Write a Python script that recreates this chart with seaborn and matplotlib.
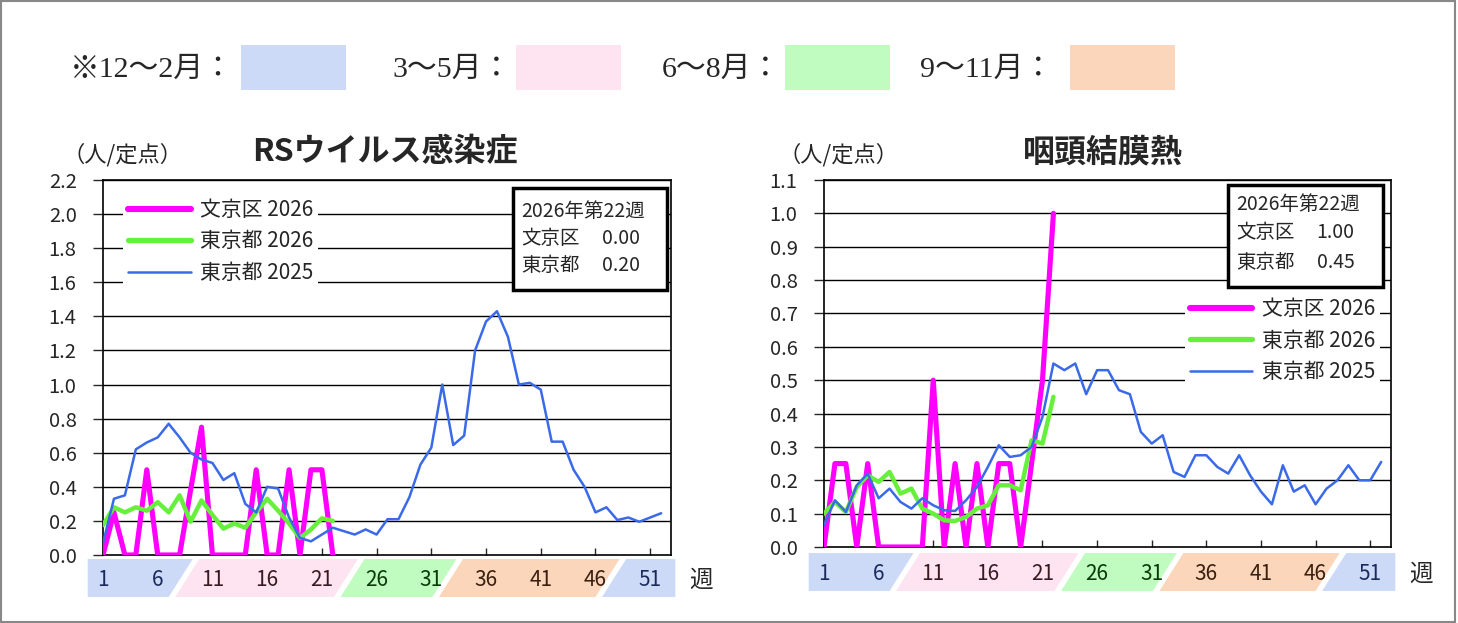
import matplotlib
matplotlib.use('Agg')
import matplotlib.pyplot as plt
from matplotlib.patches import Polygon, Rectangle
from matplotlib.lines import Line2D
import seaborn as sns
import numpy as np

sns.set_style('white')
plt.rcParams['font.family'] = ['Noto Sans CJK JP', 'DejaVu Sans']

# ---- data ----
weeks_2025 = list(range(1, 53))
weeks_2026 = list(range(1, 23))

# RSウイルス感染症
rs_bunkyo_2026 = [0, 0.25, 0, 0, 0.5, 0, 0, 0, 0.38, 0.75, 0, 0, 0, 0, 0.5, 0, 0, 0.5, 0, 0.5, 0.5, 0]
rs_tokyo_2026 = [0.175, 0.28, 0.25, 0.28, 0.26, 0.31, 0.25, 0.35, 0.195, 0.32, 0.235, 0.155, 0.185, 0.16,
                 0.25, 0.33, 0.26, 0.185, 0.10, 0.15, 0.215, 0.20]
rs_tokyo_2025 = [0.07, 0.33, 0.35, 0.62, 0.66, 0.69, 0.77, 0.69, 0.60, 0.56, 0.54, 0.44, 0.48, 0.30, 0.25,
                 0.40, 0.39, 0.22, 0.10, 0.08, 0.12, 0.16, 0.14, 0.12, 0.15, 0.12, 0.21, 0.21, 0.34, 0.53,
                 0.63, 1.00, 0.645, 0.70, 1.20, 1.37, 1.43, 1.28, 1.00, 1.01, 0.97, 0.665, 0.665, 0.50,
                 0.40, 0.25, 0.28, 0.205, 0.22, 0.195, 0.22, 0.245]

# 咽頭結膜熱
pc_bunkyo_2026 = [0, 0.25, 0.25, 0, 0.25, 0, 0, 0, 0, 0, 0.5, 0, 0.25, 0, 0.25, 0, 0.25, 0.25, 0, 0.25, 0.5, 1.0]
pc_tokyo_2026 = [0.10, 0.135, 0.105, 0.18, 0.215, 0.195, 0.225, 0.16, 0.175, 0.115, 0.10, 0.08, 0.078, 0.09,
                 0.115, 0.125, 0.185, 0.185, 0.17, 0.32, 0.31, 0.45]
pc_tokyo_2025 = [0.066, 0.14, 0.105, 0.185, 0.22, 0.146, 0.175, 0.135, 0.115, 0.146, 0.125, 0.11, 0.108, 0.14,
                 0.18, 0.24, 0.305, 0.27, 0.275, 0.30, 0.39, 0.55, 0.53, 0.55, 0.458, 0.53, 0.53, 0.47,
                 0.458, 0.345, 0.31, 0.335, 0.225, 0.21, 0.275, 0.275, 0.24, 0.22, 0.275, 0.215, 0.166,
                 0.128, 0.245, 0.166, 0.185, 0.128, 0.175, 0.20, 0.245, 0.20, 0.20, 0.255]

series_labels = ['文京区 2026', '東京都 2026', '東京都 2025']
week_ticks = [1, 6, 11, 16, 21, 26, 31, 36, 41, 46, 51]

season_labels = ['※12～2月：', '3～5月：', '6～8月：', '9～11月：']
season_fill = ['#CCDAF8', '#FDE4F0', '#C0FCC0', '#FCD6BA']
season_text = ['#1A2A5A', '#3A1A22', '#0A3A0A', '#3A2010']
season_bounds = [-0.4, 8.4, 23.5, 32.5, 47.4, 53.3]   # 週 (斜めの境目の中心)
season_order = [0, 1, 2, 3, 0]

C_BUN = '#FF00FF'
C_T26 = '#66F03C'
C_T25 = '#3A6AE8'

fig = plt.figure(figsize=(14.58, 6.23), dpi=100)
fig.patches.append(Rectangle((0.001, 0.002), 0.997, 0.996, transform=fig.transFigure,
                             fill=False, ec='#888888', lw=1.5))

# 季節の凡例 (上段)
W, H = 1458, 623
leg_x = [70, 392, 662, 920]
box_x = [241, 516, 785, 1070]
for i in range(4):
    fig.text(leg_x[i] / W, 1 - 70 / H, season_labels[i], fontsize=21.5, va='center', ha='left',
             family=['Liberation Serif', 'Noto Sans CJK JP'])
    fig.patches.append(Rectangle((box_x[i] / W, 1 - 90 / H), 105 / W, 45 / H,
                                 transform=fig.transFigure, color=season_fill[i], lw=0))


def draw_chart(rect, band_rect, title, title_x, unit_x, ymax, ystep, bun, t26, t25, box_pos, box_texts,
               leg_anchor, leg_loc):
    ax = fig.add_axes(rect)
    sns.lineplot(x=weeks_2026, y=bun, ax=ax, color=C_BUN, lw=3.7, zorder=3)
    sns.lineplot(x=weeks_2026, y=t26, ax=ax, color=C_T26, lw=3.2, zorder=4)
    sns.lineplot(x=weeks_2025, y=t25, ax=ax, color=C_T25, lw=1.8, zorder=5)
    ax.set_xlim(1, 52.9)
    ax.set_ylim(0, ymax)
    yt = np.round(np.arange(0, ymax + ystep / 2, ystep), 2)
    ax.set_yticks(yt)
    ax.set_yticklabels([f'{v:.1f}' for v in yt], fontsize=14.5)
    ax.set_xticks(week_ticks)
    ax.set_xticklabels([])
    ax.tick_params(axis='y', direction='out', length=7, width=1, pad=12, left=True)
    ax.tick_params(axis='x', direction='in', length=5, width=1, bottom=True)
    for v in yt[1:]:
        ax.axhline(v, color='black', lw=1, zorder=1)
    for s in ax.spines.values():
        s.set_color('black')
        s.set_linewidth(1.2)
    ax.set_xlabel('')
    ax.set_ylabel('')

    # 凡例
    handles = [Line2D([], [], color=C_BUN, lw=4.4), Line2D([], [], color=C_T26, lw=3.8),
               Line2D([], [], color=C_T25, lw=1.8)]
    lg = ax.legend(handles, series_labels, loc=leg_loc, bbox_to_anchor=leg_anchor, fontsize=15,
                   frameon=True, facecolor='white', edgecolor='none', framealpha=1, fancybox=False,
                   handlelength=3.0, handletextpad=0.45, labelspacing=0.45, borderpad=0.25,
                   borderaxespad=0)
    lg.set_zorder(6)

    # 最新週の値
    bx0, by0, bx1, by1 = box_pos
    ax.add_patch(Rectangle((bx0, by0), bx1 - bx0, by1 - by0, transform=ax.transAxes,
                           fc='white', ec='black', lw=2.5, zorder=7))
    hdr, l1, v1, l2, v2, ys, xv = box_texts
    fs = 14
    ax.text(bx0 + 0.014, ys[0], hdr, transform=ax.transAxes, fontsize=fs, va='center', zorder=8)
    ax.text(bx0 + 0.014, ys[1], l1, transform=ax.transAxes, fontsize=fs, va='center', zorder=8)
    ax.text(xv, ys[1], v1, transform=ax.transAxes, fontsize=fs, va='center', zorder=8)
    ax.text(bx0 + 0.014, ys[2], l2, transform=ax.transAxes, fontsize=fs, va='center', zorder=8)
    ax.text(xv, ys[2], v2, transform=ax.transAxes, fontsize=fs, va='center', zorder=8)

    # 週の帯
    bax = fig.add_axes(band_rect, sharex=ax)
    bax.set_ylim(0, 1)
    bax.axis('off')
    half, gap = 1.1, 0.3
    for k in range(len(season_order)):
        a, b = season_bounds[k], season_bounds[k + 1]
        if k == 0:
            lb, lt = a, a
        else:
            lb, lt = a - half + gap, a + half + gap
        if k == len(season_order) - 1:
            rb, rt = b, b
        else:
            rb, rt = b - half - gap, b + half - gap
        bax.add_patch(Polygon([(lb, 0), (lt, 1), (rt, 1), (rb, 0)], closed=True,
                              color=season_fill[season_order[k]], lw=0, clip_on=False))
    for w in week_ticks:
        k = int(np.searchsorted(season_bounds, w)) - 1
        bax.text(w, 0.45, str(w), ha='center', va='center', fontsize=15,
                 color=season_text[season_order[k]], clip_on=False)
    bax.text(54.6, 0.45, '週', ha='left', va='center', fontsize=17, clip_on=False)

    # タイトルと単位
    fig.text(title_x / W, 1 - 152 / H, title, fontsize=23, fontweight='bold', ha='center', va='center')
    fig.text(unit_x / W, 1 - 155 / H, '（人/定点）', fontsize=16, ha='center', va='center')
    return ax


draw_chart([103 / W, 1 - 555 / H, 568 / W, 375 / H], [103 / W, 1 - 597 / H, 568 / W, 38 / H],
           'RSウイルス感染症', 385, 122, 2.2, 0.2, rs_bunkyo_2026, rs_tokyo_2026, rs_tokyo_2025,
           (0.722, 0.707, 0.993, 0.979),
           ('2026年第22週', '文京区', '0.00', '東京都', '0.20', (0.915, 0.845, 0.771), 0.878),
           (0.035, 0.963), 'upper left')

draw_chart([824 / W, 1 - 547 / H, 567 / W, 367 / H], [824 / W, 1 - 591 / H, 567 / W, 38 / H],
           '咽頭結膜熱', 1103, 838, 1.1, 0.1, pc_bunkyo_2026, pc_tokyo_2026, pc_tokyo_2025,
           (0.713, 0.708, 0.986, 0.986),
           ('2026年第22週', '文京区', '1.00', '東京都', '0.45', (0.932, 0.856, 0.774), 0.869),
           (0.981, 0.692), 'upper right')

fig.savefig('out.png', dpi=100)
